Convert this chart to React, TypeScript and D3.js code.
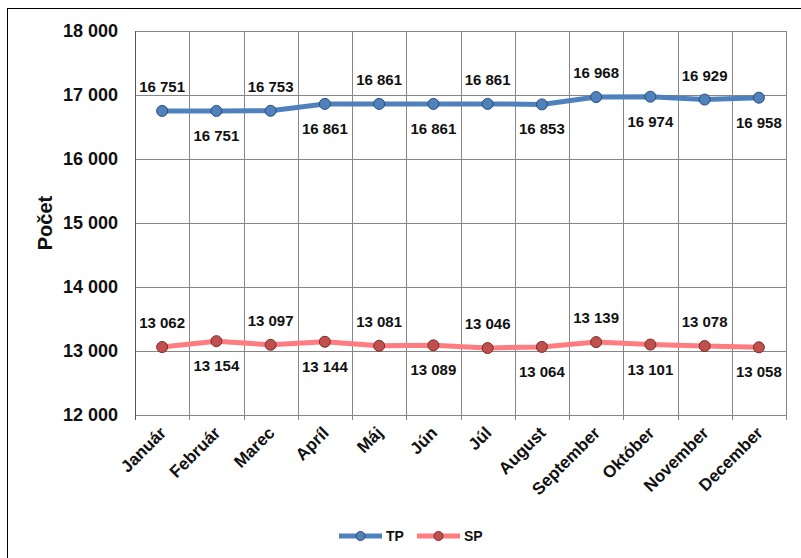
import React, { useEffect, useRef } from 'react';
import * as d3 from 'd3';

const months = ['Január', 'Február', 'Marec', 'Apríl', 'Máj', 'Jún', 'Júl', 'August', 'September', 'Október', 'November', 'December'];
const tpValues = [16751, 16751, 16753, 16861, 16861, 16861, 16861, 16853, 16968, 16974, 16929, 16958];
const spValues = [13062, 13154, 13097, 13144, 13081, 13089, 13046, 13064, 13139, 13101, 13078, 13058];
const yTicks = [12000, 13000, 14000, 15000, 16000, 17000, 18000];

const fmt = (v: number) => d3.format(',')(v).replace(/,/g, ' ');

export default function App() {
  const svgRef = useRef<SVGSVGElement>(null);

  useEffect(() => {
    if (!svgRef.current) return;
    d3.select(svgRef.current).selectAll('*').remove();

    const W = 801, H = 558;
    const margin = { top: 31, right: 15, bottom: 143, left: 135 };
    const width = W - margin.left - margin.right;
    const height = H - margin.top - margin.bottom;

    const root = d3.select(svgRef.current).attr('width', W).attr('height', H);

    // outer frame (only left/top visible)
    root.append('rect')
      .attr('x', 7.5).attr('y', 8.5)
      .attr('width', W).attr('height', H)
      .attr('fill', 'white').attr('stroke', '#000').attr('stroke-width', 1);

    const svg = root.append('g').attr('transform', `translate(${margin.left},${margin.top})`);

    const x = d3.scaleBand<string>().domain(months).range([0, width]);
    const y = d3.scaleLinear().domain([12000, 18000]).range([height, 0]);
    const cx = (m: string) => (x(m) || 0) + x.bandwidth() / 2;

    // horizontal gridlines
    svg.append('g')
      .selectAll('line')
      .data(yTicks)
      .enter()
      .append('line')
      .attr('x1', 0).attr('x2', width)
      .attr('y1', d => Math.round(y(d)) + 0.5).attr('y2', d => Math.round(y(d)) + 0.5)
      .attr('stroke', '#868686');

    // vertical gridlines at category edges
    const edges = months.map(m => x(m) || 0).concat([width]);
    svg.append('g')
      .selectAll('line')
      .data(edges)
      .enter()
      .append('line')
      .attr('x1', d => Math.round(d) + 0.5).attr('x2', d => Math.round(d) + 0.5)
      .attr('y1', 0).attr('y2', height + 5)
      .attr('stroke', (d, i) => (i === 0 ? '#555' : '#868686'));

    // y tick labels
    svg.append('g')
      .selectAll('text')
      .data(yTicks)
      .enter()
      .append('text')
      .attr('x', -17)
      .attr('y', d => y(d) + 6)
      .attr('text-anchor', 'end')
      .attr('font-size', 18)
      .attr('font-weight', 'bold')
      .attr('fill', '#111')
      .text(d => fmt(d));

    // y axis title
    svg.append('text')
      .attr('transform', `translate(${-83},${height / 2}) rotate(-90)`)
      .attr('text-anchor', 'middle')
      .attr('font-size', 20)
      .attr('font-weight', 'bold')
      .attr('fill', '#111')
      .text('Počet');

    // x labels
    svg.append('g')
      .selectAll('text')
      .data(months)
      .enter()
      .append('text')
      .attr('transform', d => `translate(${cx(d) + 5},${height + 19}) rotate(-45)`)
      .attr('text-anchor', 'end')
      .attr('font-size', 17)
      .attr('font-weight', 'bold')
      .attr('fill', '#111')
      .text(d => d);

    const series = [
      { name: 'TP', values: tpValues, line: '#4F81BD', fill: '#4F81BD', stroke: '#2C4D75' },
      { name: 'SP', values: spValues, line: '#FF7C80', fill: '#C0504D', stroke: '#7F2A28' },
    ];

    const lineGen = d3.line<number>()
      .x((_, i) => cx(months[i]))
      .y(d => y(d));

    series.forEach(s => {
      svg.append('path')
        .datum(s.values)
        .attr('d', lineGen)
        .attr('fill', 'none')
        .attr('stroke', s.line)
        .attr('stroke-width', 5)
        .attr('stroke-linejoin', 'round');

      svg.selectAll(`.pt-${s.name}`)
        .data(s.values)
        .enter()
        .append('circle')
        .attr('class', `pt-${s.name}`)
        .attr('cx', (_, i) => cx(months[i]))
        .attr('cy', d => y(d))
        .attr('r', 5.5)
        .attr('fill', s.fill)
        .attr('stroke', s.stroke)
        .attr('stroke-width', 1);

      svg.selectAll(`.lbl-${s.name}`)
        .data(s.values)
        .enter()
        .append('text')
        .attr('class', `lbl-${s.name}`)
        .attr('x', (_, i) => cx(months[i]))
        .attr('y', (d, i) => y(d) + (i % 2 === 0 ? -19 : 30))
        .attr('text-anchor', 'middle')
        .attr('font-size', 15)
        .attr('font-weight', 'bold')
        .attr('fill', '#111')
        .text(d => fmt(d));
    });

    // legend
    const legend = root.append('g').attr('transform', 'translate(339,536)');
    series.forEach((s, i) => {
      const g = legend.append('g').attr('transform', `translate(${i * 78},0)`);
      g.append('line')
        .attr('x1', 0).attr('x2', 43)
        .attr('y1', 0).attr('y2', 0)
        .attr('stroke', s.line).attr('stroke-width', 5);
      g.append('circle')
        .attr('cx', 21.5).attr('cy', 0).attr('r', 4.5)
        .attr('fill', s.fill).attr('stroke', s.stroke);
      g.append('text')
        .attr('x', 47).attr('y', 5)
        .attr('font-size', 14)
        .attr('font-weight', 'bold')
        .attr('fill', '#111')
        .text(s.name);
    });
  }, []);

  return (
    <div style={{ position: 'absolute', left: 0, top: 0 }}>
      <svg ref={svgRef} style={{ display: 'block', fontFamily: 'Arial, "Liberation Sans", sans-serif' }}></svg>
    </div>
  );
}
